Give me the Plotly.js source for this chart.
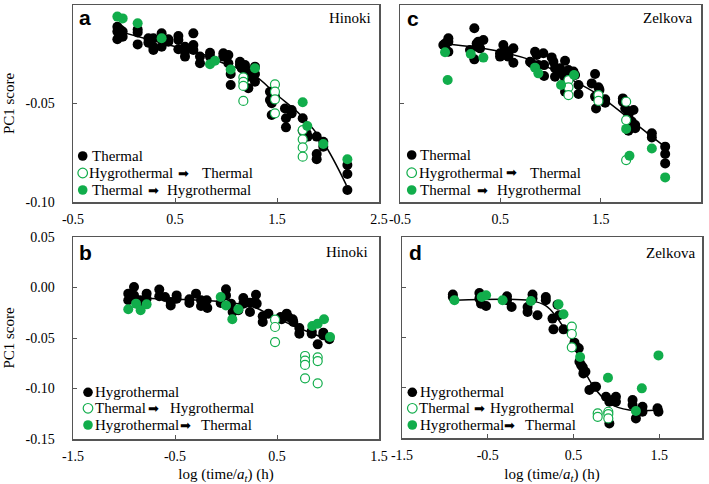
<!DOCTYPE html>
<html><head><meta charset="utf-8">
<script src="https://cdn.plot.ly/plotly-3.0.1.min.js"></script>
<style>html,body{margin:0;padding:0;background:#fff}</style>
</head><body><div id="chart" style="width:709px;height:484px"></div>
<script>
// ---------- Panel a (Hinoki, thermal) ----------
const aNames = ['Thermal', 'Hygrothermal ➡ Thermal', 'Thermal ➡ Hygrothermal'];
const aS1X = [-0.065,-0.065,-0.065,-0.013,-0.013,-0.039, 0.134,0.134,0.134, 0.239,0.239,0.288,0.288,0.288,0.369,0.369, 0.435,0.435,0.533,0.533,0.533,0.598,0.598,0.598,0.68,0.68,0.68, 0.745,0.745,0.843,0.843, 0.974,0.974,1.023,1.023,1.046,1.046, 1.137,1.137,1.154,1.186,1.203,1.219,1.219,1.284,1.284,1.284, 1.431,1.431,1.448,1.448,1.48, 1.578,1.588,1.588,1.644,1.644, 1.752,1.752,1.791,1.801,1.889,1.954,1.954,1.889,1.889, 2.19,2.19,2.19];
const aS1Y = [-0.011,-0.0135,-0.0174,-0.0135,-0.0161,-0.0124, -0.0124,-0.014,-0.02, -0.0169,-0.0191,-0.0169,-0.0212,-0.0228,-0.0144,-0.0212, -0.0174,-0.0186,-0.0157,-0.0178,-0.0225,-0.0212,-0.0237,-0.0262,-0.0144,-0.0203,-0.0228, -0.0262,-0.0296,-0.0242,-0.0262, -0.0245,-0.0262,-0.0254,-0.0296,-0.035,-0.0406, -0.0288,-0.0305,-0.0321,-0.0305,-0.033,-0.0364,-0.0423,-0.0313,-0.035,-0.0389, -0.044,-0.0482,-0.0499,-0.0558,-0.0465, -0.0525,-0.0575,-0.0621,-0.0533,-0.055, -0.0575,-0.0638,-0.0651,-0.0668,-0.0668,-0.0694,-0.0719,-0.0756,-0.0783, -0.0812,-0.0858,-0.0939];
const aS2X = [1.17,1.17,1.17,1.17, 1.48,1.48,1.48,1.48, 1.752,1.752,1.752,1.752];
const aS2Y = [-0.0367,-0.039,-0.0411,-0.0487, -0.0403,-0.044,-0.0479,-0.055, -0.0635,-0.0682,-0.0723,-0.077];
const aS3X = [-0.065,-0.013,0.134,0.369,0.843,0.892,1.046,1.284,1.752,1.797,1.954,2.19];
const aS3Y = [-0.0059,-0.0068,-0.0093,-0.0169,-0.0301,-0.0283,-0.0327,-0.0321,-0.0494,-0.0614,-0.0706,-0.0783];
const aFitX = [-0.04, 0.35, 0.84, 0.94, 1.27, 1.5, 1.73, 1.95, 2.18];
const aFitY = [-0.0135, -0.019, -0.0262, -0.0288, -0.0355, -0.0457, -0.0558, -0.0694, -0.0914];

// ---------- Panel b (Hinoki, hygrothermal) ----------
const bNames = ['Hygrothermal', 'Thermal ➡ Hygrothermal', 'Hygrothermal ➡ Thermal'];
const bS1X = [-0.958,-0.958,-0.902,-0.902,-0.843,-0.837,-0.778,-0.778, -0.654,-0.654,-0.598,-0.542,-0.542,-0.484,-0.484,-0.359,-0.359,-0.294,-0.245,-0.245,-0.189,-0.183, -0.052,0.0,0.0,0.049,0.065,0.121,0.170,0.170,0.235,0.235,0.284,0.294,0.301, 0.360,0.360,0.416,0.536,0.546,0.595,0.611,0.654,0.660,0.719,0.719,0.840,0.840,0.899,0.954,0.954,1.013];
const bS1Y = [-0.0061,-0.0127,0.0005,-0.0078,-0.0127,-0.016,-0.0061,-0.0111, -0.0021,-0.0087,-0.0094,-0.0144,-0.0177,-0.0078,-0.0111,-0.0117,-0.0153,-0.0061,-0.0127,-0.0183,-0.0127,-0.0203, -0.0153,-0.0018,-0.0078,-0.016,-0.0243,-0.0226,-0.0104,-0.016,-0.015,-0.0243,-0.0144,-0.0071,-0.016, -0.0285,-0.0342,-0.0259,-0.0292,-0.0315,-0.0259,-0.0292,-0.0315,-0.0342,-0.0401,-0.0457,-0.0434,-0.0457,-0.0563,-0.0447,-0.0474,-0.0513];
const bS2X = [0.481,0.481,0.481,0.775,0.775,0.775,0.775,0.899,0.899,0.899];
const bS2Y = [-0.0319,-0.0391,-0.054,-0.0678,-0.0724,-0.0767,-0.0899,-0.0691,-0.0728,-0.0949];
const bS3X = [-0.958,-0.882,-0.837,-0.778,-0.052,0.0,0.062,0.121,0.846,0.899,0.961,1.020];
const bS3Y = [-0.0216,-0.016,-0.0226,-0.0167,-0.0094,-0.0177,-0.0315,-0.0216,-0.0381,-0.0358,-0.0315,-0.049];
const bFitX = [-0.89, -0.39, 0.0, 0.27, 0.43, 0.69, 1.02];
const bFitY = [-0.0104, -0.012, -0.0144, -0.0193, -0.027, -0.0391, -0.0523];

// ---------- Panel c (Zelkova, thermal) ----------
const cNames = ['Thermal', 'Hygrothermal ➡ Thermal', 'Thermal ➡ Hygrothermal'];
const cS1X = [-0.068,-0.051,-0.051,-0.018,-0.018,-0.018, 0.241,0.241,0.198,0.264,0.264,0.281,0.331,0.298, 0.497,0.497,0.530,0.547,0.547,0.580,0.580,0.630,0.630, 0.796,0.813,0.846,0.863,0.879,0.929,0.936,0.936, 1.012,1.029,1.045,1.045,1.095,1.112,1.145,1.145,1.145,1.179,1.196,1.229,1.245,1.279,1.279, 1.411,1.444,1.444,1.454,1.478,1.488,1.511,1.545,1.545, 1.721,1.721,1.745,1.777,1.777,1.827,1.844,1.844,1.810, 2.010,2.010,2.143,2.143,2.143];
const cS1Y = [-0.0203,-0.0195,-0.0212,-0.0169,-0.0186,-0.0237, -0.0118,-0.0276,-0.0228,-0.0212,-0.0195,-0.0186,-0.0178,-0.022, -0.0245,-0.0262,-0.0203,-0.0228,-0.0254,-0.0245,-0.0262,-0.022,-0.0293, -0.0288,-0.0296,-0.0237,-0.0254,-0.0305,-0.0245,-0.0305,-0.036, -0.0266,-0.0288,-0.0321,-0.0364,-0.0321,-0.0347,-0.0283,-0.0372,-0.044,-0.033,-0.0344,-0.0338,-0.0355,-0.0406,-0.0452, -0.0398,-0.035,-0.0465,-0.0525,-0.0418,-0.0431,-0.0482,-0.0479,-0.0496, -0.0474,-0.0491,-0.0525,-0.0558,-0.0638,-0.0533,-0.0609,-0.0626,-0.0592, -0.0651,-0.0672,-0.0719,-0.0756,-0.0804];
const cS2X = [1.179,1.179,1.179,1.478,1.478,1.754,1.754,1.754];
const cS2Y = [-0.0381,-0.0418,-0.0457,-0.0457,-0.0487,-0.0491,-0.0584,-0.0787];
const cS3X = [-0.051,-0.025,0.205,0.331,0.846,0.879,1.105,1.235,1.754,1.787,2.010,2.143];
const cS3Y = [-0.024,-0.0381,-0.0249,-0.0267,-0.0318,-0.0347,-0.0406,-0.0355,-0.0629,-0.0765,-0.0728,-0.0875];
const cFitX = [-0.06, 0.25, 0.5, 0.81, 0.95, 1.28, 1.48, 1.78, 2.01, 2.14];
const cFitY = [-0.0197, -0.0215, -0.0237, -0.028, -0.031, -0.0398, -0.0457, -0.0575, -0.0668, -0.0719];

// ---------- Panel d (Zelkova, hygrothermal) ----------
const dNames = ['Hygrothermal', 'Thermal ➡ Hygrothermal', 'Hygrothermal ➡ Thermal'];
const dS1X = [-0.907,-0.907,-0.597,-0.597,-0.578,-0.519,-0.275,-0.275,-0.221,-0.035,-0.035,0.023,0.023,0.081,0.178,0.178,0.256,0.267,0.314,0.333,0.384, 0.512,0.531,0.562,0.570,0.589,0.609,0.616,0.640, 0.686,0.744,0.764,0.880,0.919,0.919,0.957,0.996,0.996,1.190,1.190,1.229,1.306,1.306,1.481,1.492];
const dS1Y = [-0.0073,-0.0097,-0.0057,-0.0113,-0.0163,-0.0186,-0.009,-0.013,-0.0196,-0.0196,-0.0246,-0.0073,-0.0113,-0.0279,-0.0097,-0.013,-0.0312,-0.0419,-0.0173,-0.0279,-0.0419, -0.0551,-0.0591,-0.0608,-0.0741,-0.0774,-0.0797,-0.0857,-0.084, -0.1023,-0.099,-0.099,-0.1089,-0.1139,-0.1355,-0.1122,-0.1089,-0.1139,-0.1122,-0.1172,-0.1305,-0.1189,-0.1239,-0.1205,-0.1239];
const dS2X = [0.481,0.481,0.481,0.783,0.783,0.907,0.907,0.907];
const dS2Y = [-0.0392,-0.0465,-0.0598,-0.1255,-0.1289,-0.1239,-0.1262,-0.1305];
const dS3X = [-0.888,-0.570,-0.519,-0.326,0.004,0.326,0.384,0.578,0.903,1.229,1.298,1.492];
const dS3Y = [-0.013,-0.0097,-0.008,-0.013,-0.0136,-0.017,-0.0269,-0.0694,-0.09,-0.1232,-0.1006,-0.0678];
const dFitX = [-0.88, 0.0, 0.18, 0.3, 0.4, 0.5, 0.57, 0.72, 0.92, 1.15, 1.5];
const dFitY = [-0.013, -0.0133, -0.0186, -0.0293, -0.042, -0.056, -0.072, -0.097, -0.1155, -0.1222, -0.1222];

// ---------- Axis ticks and labels ----------
const topXTicks = [-0.5, 0.5, 1.5, 2.5];
const topXLabels = ['-0.5', '0.5', '1.5', '2.5'];
const botXTicks = [-1.5, -0.5, 0.5, 1.5];
const botXLabels = ['-1.5', '-0.5', '0.5', '1.5'];
const topYTicks = [0, -0.05, -0.10];
const topYLabels = ['0.00', '-0.05', '-0.10'];
const botYTicks = [0.05, 0, -0.05, -0.10, -0.15];
const botYLabels = ['0.05', '0.00', '-0.05', '-0.10', '-0.15'];
const panelLetters = ['a', 'b', 'c', 'd'];
const speciesNames = ['Hinoki', 'Hinoki', 'Zelkova', 'Zelkova'];
const yTitleText = 'PC1 score';
const xTitleText = 'log (time/<i>a<sub>t</sub></i>) (h)';

// ---------- Layout geometry (pixels) ----------
const W = 709, H = 484;
const M = {l: 73, r: 7, t: 5, b: 45};
const PW = W - M.l - M.r, PH = H - M.t - M.b;
const GREEN = '#11ad4b';
const SERIF = '"Liberation Serif", "DejaVu Serif", serif';
const SANS = '"Liberation Sans", Arial, sans-serif';
const AX = '#555555';

const panels = [
  {id: 'a', xa: 'x',  ya: 'y',  L: 73,  R: 379, T: 5,   B: 202, xr: [-0.5, 2.5], yr: [-0.10, 0.0], xt: topXTicks, xl: topXLabels, yt: topYTicks, yl: topYLabels, showY: true, yTitle: true, xTitle: false,
   d: [aS1X, aS1Y, aS2X, aS2Y, aS3X, aS3Y, aFitX, aFitY], names: aNames,
   leg: {mx: 82.7, rows: [156, 173, 190], px: [[91.7], [89.3, 177.5, 201.7], [91.7, 148, 167]]}, letter: [84.5, 18], species: [372, 17.5]},
  {id: 'b', xa: 'x2', ya: 'y2', L: 73,  R: 379, T: 237, B: 439, xr: [-1.5, 1.5], yr: [-0.15, 0.05], xt: botXTicks, xl: botXLabels, yt: botYTicks, yl: botYLabels, showY: true, yTitle: true, xTitle: true,
   d: [bS1X, bS1Y, bS2X, bS2Y, bS3X, bS3Y, bFitX, bFitY], names: bNames,
   leg: {mx: 88, rows: [392.3, 408.3, 425], px: [[95], [95, 148.3, 170], [95, 179.5, 201]]}, letter: [85.3, 252], species: [369, 252]},
  {id: 'c', xa: 'x3', ya: 'y3', L: 400, R: 701, T: 5,   B: 202, xr: [-0.5, 2.5], yr: [-0.10, 0.0], xt: topXTicks, xl: topXLabels, yt: topYTicks, yl: topYLabels, showY: false, yTitle: false, xTitle: false,
   d: [cS1X, cS1Y, cS2X, cS2Y, cS3X, cS3Y, cFitX, cFitY], names: cNames,
   leg: {mx: 411.7, rows: [155, 172.7, 190], px: [[420], [419.3, 506, 530], [420, 477.3, 496.7]]}, letter: [413, 18.5], species: [693.3, 17.5]},
  {id: 'd', xa: 'x4', ya: 'y4', L: 402, R: 702, T: 237, B: 438, xr: [-1.5, 2.0], yr: [-0.15, 0.05], xt: botXTicks, xl: botXLabels, yt: botYTicks, yl: botYLabels, showY: false, yTitle: false, xTitle: true,
   d: [dS1X, dS1Y, dS2X, dS2Y, dS3X, dS3Y, dFitX, dFitY], names: dNames,
   leg: {mx: 412.3, rows: [392.3, 408.3, 425], px: [[420], [419.3, 474.3, 490], [420, 504, 524.5]]}, letter: [415.2, 252.5], species: [695.7, 252.5]}
];

const traces = [];
const layout = {
  width: W, height: H, margin: M, paper_bgcolor: '#fff', plot_bgcolor: '#fff',
  showlegend: false, font: {family: SERIF, size: 14, color: '#000'},
  annotations: [], shapes: []
};

panels.forEach((p, i) => {
  const n = i === 0 ? '' : String(i + 1);
  const xd = [(p.L - M.l) / PW, (p.R - M.l) / PW];
  const yd = [(H - M.b - p.B) / PH, (H - M.b - p.T) / PH];
  const common = {
    showline: true, linecolor: AX, linewidth: 1.5, mirror: true,
    ticks: 'inside', ticklen: 4, tickwidth: 1, tickcolor: AX,
    showgrid: false, zeroline: false, automargin: false, fixedrange: true,
    tickfont: {family: SERIF, size: 14, color: '#000'}, tickmode: 'array'
  };
  const xax = Object.assign({}, common, {
    domain: xd, range: p.xr, anchor: p.ya, tickvals: p.xt, ticktext: p.xl,
    ticklabelstandoff: 4
  });
  if (p.xTitle) xax.title = {text: xTitleText + '\u00A0\u00A0\u00A0\u00A0\u00A0', font: {family: SERIF, size: 15, color: '#000'}, standoff: 12};
  const yax = Object.assign({}, common, {
    domain: yd, range: p.yr, anchor: p.xa, tickvals: p.yt, ticktext: p.yl,
    showticklabels: p.showY, ticklabelstandoff: 14
  });
  if (p.yTitle) yax.title = {text: yTitleText, font: {family: SERIF, size: 15, color: '#000'}, standoff: 7};
  layout['xaxis' + n] = xax;
  layout['yaxis' + n] = yax;

  const [s1x, s1y, s2x, s2y, s3x, s3y, fx, fy] = p.d;
  traces.push({x: fx, y: fy, xaxis: p.xa, yaxis: p.ya, mode: 'lines', type: 'scatter', name: 'fit',
    line: {color: '#000', width: 1.5, shape: 'spline', smoothing: 1}, hoverinfo: 'skip'});
  traces.push({x: s1x, y: s1y, xaxis: p.xa, yaxis: p.ya, mode: 'markers', type: 'scatter', name: p.names[0],
    marker: {color: '#000', size: 10, line: {width: 0}}});
  traces.push({x: s2x, y: s2y, xaxis: p.xa, yaxis: p.ya, mode: 'markers', type: 'scatter', name: p.names[1],
    marker: {color: '#fff', size: 9, line: {color: GREEN, width: 1.2}}});
  traces.push({x: s3x, y: s3y, xaxis: p.xa, yaxis: p.ya, mode: 'markers', type: 'scatter', name: p.names[2],
    marker: {color: GREEN, size: 10, line: {width: 0}}});

  const fxp = px => (px - p.L) / (p.R - p.L);
  const fyp = py => (p.B - py) / (p.B - p.T);
  const xref = p.xa + ' domain', yref = p.ya + ' domain';
  layout.annotations.push({xref, yref, x: fxp(p.letter[0]), y: fyp(p.letter[1]), xanchor: 'center', yanchor: 'middle',
    text: '<b>' + panelLetters[i] + '</b>', showarrow: false, font: {family: SANS, size: 21, color: '#000'}});
  layout.annotations.push({xref, yref, x: fxp(p.species[0] + 1), y: fyp(p.species[1]), xanchor: 'right', yanchor: 'middle',
    text: speciesNames[i], showarrow: false, font: {family: SERIF, size: 15, color: '#000'}});
  const styles = [
    {fill: '#000', line: '#000', w: 0},
    {fill: '#fff', line: GREEN, w: 1.2},
    {fill: GREEN, line: GREEN, w: 0}
  ];
  p.names.forEach((nm, k) => {
    const ry = p.leg.rows[k];
    const st = styles[k];
    layout.shapes.push({type: 'circle', xref, yref, xsizemode: 'pixel', ysizemode: 'pixel',
      xanchor: fxp(p.leg.mx), yanchor: fyp(ry), x0: -4.8, x1: 4.8, y0: -4.8, y1: 4.8,
      fillcolor: st.fill, line: {color: st.line, width: st.w}});
    const parts = nm.split('➡').map(s => s.trim());
    const pieces = parts.length === 1 ? [parts[0]] : [parts[0], '➡', parts[1]];
    pieces.forEach((t, j) => {
      const isArrow = t === '➡';
      layout.annotations.push({xref, yref, x: fxp(p.leg.px[k][j] - 2), y: fyp(ry), xanchor: 'left', yanchor: 'middle',
        text: t, showarrow: false,
        font: isArrow ? {family: '"DejaVu Sans"', size: 13, color: '#000'} : {family: SERIF, size: 15, color: '#000'}});
    });
  });
});

Plotly.newPlot('chart', traces, layout, {displayModeBar: false, staticPlot: true});
</script>
</body></html>
